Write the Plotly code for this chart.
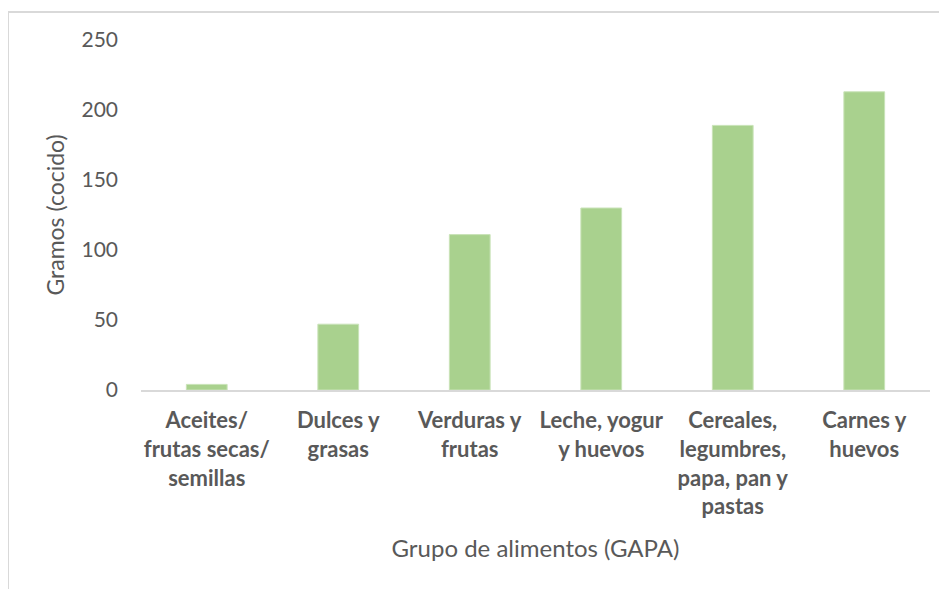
import plotly.graph_objects as go

# categories (food groups) and grams cooked
grupos = [
    "Aceites/<br>frutas secas/<br>semillas",
    "Dulces y<br>grasas",
    "Verduras y<br>frutas",
    "Leche, yogur<br>y huevos",
    "Cereales,<br>legumbres,<br>papa, pan y<br>pastas",
    "Carnes y<br>huevos",
]
gramos = [4, 47, 111, 130, 189, 213]
y_ticks = [0, 50, 100, 150, 200, 250]

texto = "#595959"
borde = "#D9D9D9"

fig = go.Figure()
fig.add_trace(go.Bar(
    x=grupos,
    y=gramos,
    marker=dict(color="#A9D18E", line=dict(color="#C9E3B8", width=1)),
))

# outer chart frame (only left and top edges show in the crop)
fx = -133 / 789
fy = 378 / 350
fig.add_shape(type="line", xref="paper", yref="paper",
              x0=fx, x1=fx, y0=fy, y1=-0.7,
              line=dict(color=borde, width=2))
fig.add_shape(type="line", xref="paper", yref="paper",
              x0=fx, x1=1.05, y0=fy, y1=fy,
              line=dict(color=borde, width=2))

# page body has an 8px margin, so the figure is 8px smaller each way
fig.update_layout(
    width=939,
    height=581,
    margin=dict(l=133, r=17, t=32, b=199),
    plot_bgcolor="white",
    paper_bgcolor="white",
    bargap=0.69,
    showlegend=False,
    font=dict(family="Lato", color=texto),
    xaxis=dict(
        showline=True, linecolor=borde, linewidth=2,
        showgrid=False, ticks="",
        tickfont=dict(size=22, family="Lato", weight="bold", color=texto),
        ticklabelstandoff=10,
        title=dict(text="Grupo de alimentos (GAPA)",
                   font=dict(size=24, color=texto), standoff=22),
    ),
    yaxis=dict(
        range=[0, 250],
        tickvals=y_ticks,
        showgrid=False, zeroline=False, showline=False,
        tickfont=dict(size=21, color=texto),
        ticklabelstandoff=22,
        title=dict(text="Gramos (cocido)",
                   font=dict(size=23, color=texto), standoff=10),
    ),
)

fig.write_html("out.html")
